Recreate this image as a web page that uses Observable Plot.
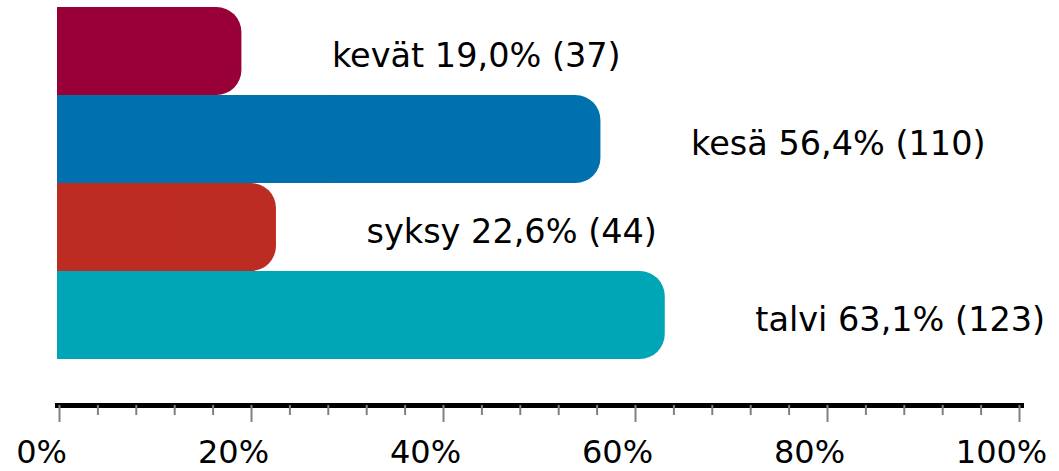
<!DOCTYPE html>
<html><head><meta charset="utf-8">
<script src="https://cdn.jsdelivr.net/npm/d3@7"></script>
<script src="https://cdn.jsdelivr.net/npm/@observablehq/plot@0.6"></script>
<style>body{margin:0;background:#fff}</style>
</head><body><div id="chart"></div>
<script>
const seasons = ["kevät", "kesä", "syksy", "talvi"];
const percents = [19.0, 56.4, 22.6, 63.1];
const counts = [37, 110, 44, 123];
const colors = ["#990038", "#0071AE", "#BD2C23", "#00A6B6"];
const majorTicks = [0, 20, 40, 60, 80, 100];
const minorTicks = [4, 8, 12, 16, 24, 28, 32, 36, 44, 48, 52, 56, 64, 68, 72, 76, 84, 88, 92, 96];

const rows = seasons.map((s, i) => ({season: s, pct: percents[i], n: counts[i]}));
const fmt = v => v.toFixed(1).replace(".", ",");

const chart = Plot.plot({
  width: 1059, height: 471,
  marginLeft: 59, marginRight: 40, marginTop: 6, marginBottom: 66,
  style: {fontFamily: "DejaVu Sans", fontSize: "32px", background: "white", overflow: "visible"},
  x: {domain: [0, 100], label: null},
  y: {domain: seasons, range: [6, 360], padding: 0, axis: null},
  color: {domain: seasons, range: colors},
  marks: [
    Plot.barX(rows, {x1: 0, x2: "pct", y: "season", fill: "season", rx: 25, insetLeft: -2}),
    Plot.barX(rows, {x1: 0, x2: d => d.pct / 2, y: "season", fill: "season", insetLeft: -2}),
    Plot.text(rows, {x: "pct", y: "season", text: d => `${d.season} ${fmt(d.pct)}% (${d.n})`,
      textAnchor: "start", dx: 90, dy: 5, fill: "black", fontSize: 33.5}),
    Plot.frame({anchor: "bottom", stroke: "black", strokeWidth: 5, insetLeft: -2, insetRight: -2}),
    Plot.axisX({ticks: minorTicks, tickSize: 10, stroke: "#808080", strokeWidth: 2, fill: "none", label: null}),
    Plot.axisX({ticks: majorTicks, tickSize: 17, stroke: "#808080", strokeWidth: 2, fill: "none", label: null}),
    Plot.axisX({ticks: majorTicks, tickSize: 17, stroke: "none", tickPadding: 18, dx: -18,
      fill: "black", fontSize: 32, tickFormat: d => d + "%", label: null})
  ]
});
document.getElementById("chart").appendChild(chart);
</script>
</body></html>
